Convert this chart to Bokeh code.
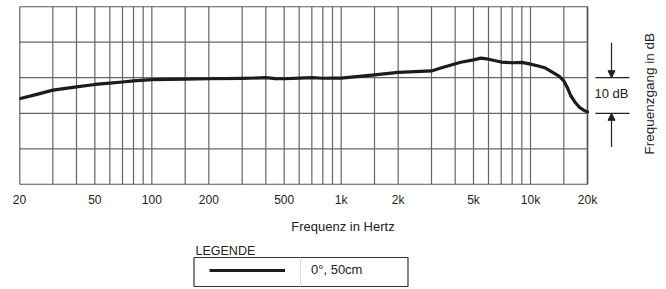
import math
from bokeh.plotting import figure
from bokeh.layouts import column
from bokeh.models import (Range1d, FixedTicker, Legend, LegendItem, Label,
                          Arrow, NormalHead)
from bokeh.embed import file_html
from bokeh.resources import INLINE

# ---- data ----
freq_hz = [20, 25, 30, 40, 50, 60, 70, 80, 100, 150, 200, 300, 400, 450, 500,
           600, 700, 800, 900, 1000, 1500, 2000, 3000, 3360, 4280, 5000, 5470,
           6000, 7000, 8000, 9000, 10000, 11000, 12000, 13300, 14200, 15000,
           15700, 16300, 17200, 18200, 19200, 20000]
response_db = [-5.9, -4.6, -3.5, -2.6, -1.9, -1.5, -1.2, -0.9, -0.55, -0.4, -0.3,
               -0.2, 0.0, -0.25, -0.3, -0.1, 0.0, -0.15, -0.1, -0.1, 0.8, 1.5,
               1.9, 2.7, 4.35, 5.0, 5.5, 5.2, 4.4, 4.2, 4.3, 3.8, 3.3, 2.7, 1.3,
               0.4, -0.9, -2.9, -5.0, -6.9, -8.4, -9.2, -9.6]

tick_values = [20, 50, 100, 200, 500, 1000, 2000, 5000, 10000, 20000]
tick_labels = ["20", "50", "100", "200", "500", "1k", "2k", "5k", "10k", "20k"]
grid_freqs = [20, 30, 40, 50, 60, 70, 80, 90, 100, 150, 200, 300, 400, 500,
              600, 700, 800, 900, 1000, 1500, 2000, 3000, 4000, 5000, 6000,
              7000, 8000, 9000, 10000, 15000, 20000]
grid_db = [-30, -20, -10, 0, 10, 20]
scale_step_db = 10
series_label = "0°, 50cm"

FONT = "Liberation Sans"
TXT = "#222222"
GRID = "#666666"
CURVE = "#1c1c1c"

f_min, f_max = freq_hz[0], freq_hz[-1]
db_min, db_max = grid_db[0], grid_db[-1]

# chart frame: 568 px wide for 3 decades; extended to the right edge for the scale marker
px_per_decade = 568 / 3
x_end = f_max * 10 ** (79 / px_per_decade)

p = figure(width=666, height=236, x_axis_type="log",
           x_range=Range1d(f_min, x_end), y_range=Range1d(db_min, db_max),
           output_backend="svg", toolbar_location=None,
           min_border_left=19, min_border_right=0,
           min_border_top=6, min_border_bottom=50)
p.outline_line_color = None
p.background_fill_color = "white"
p.border_fill_color = "white"
p.xgrid.visible = False
p.ygrid.visible = False
p.yaxis.visible = False

xa = p.xaxis[0]
xa.ticker = FixedTicker(ticks=tick_values)
xa.major_label_overrides = {v: s for v, s in zip(tick_values, tick_labels)}
xa.axis_line_color = None
xa.major_tick_line_color = None
xa.minor_tick_line_color = None
xa.major_tick_in = 0
xa.major_tick_out = 0
xa.major_label_standoff = 8
xa.major_label_text_font = FONT
xa.major_label_text_font_size = "12px"
xa.major_label_text_color = TXT
xa.axis_label = "Frequenz in Hertz"
xa.axis_label_text_font = FONT
xa.axis_label_text_font_size = "13px"
xa.axis_label_text_font_style = "normal"
xa.axis_label_text_color = TXT
xa.axis_label_standoff = 9

# grid drawn through the scales, limited to the chart area
p.segment(x0=grid_freqs, x1=grid_freqs, y0=[db_min] * len(grid_freqs),
          y1=[db_max] * len(grid_freqs), line_color=GRID, line_width=1.2)
p.segment(x0=[f_min] * len(grid_db), x1=[f_max] * len(grid_db), y0=grid_db,
          y1=grid_db, line_color=GRID, line_width=1.2)
p.quad(left=[f_min], right=[f_max], bottom=[db_min], top=[db_max],
       fill_alpha=0, line_color="#555555", line_width=1.6)

r = p.line(freq_hz, response_db, line_color=CURVE, line_width=3.2,
           line_join="round", line_cap="round")

# scale marker at the right (positions expressed in chart coordinates)
mx = f_max * 10 ** (24 / px_per_decade)      # marker column
mx0 = f_max * 10 ** (8 / px_per_decade)
mx1 = f_max * 10 ** (42 / px_per_decade)
y_hi, y_lo = 0, -scale_step_db
p.segment(x0=[mx0, mx0], x1=[mx1, mx1], y0=[y_hi, y_lo], y1=[y_hi, y_lo],
          line_color="#222222", line_width=1.2)
head = dict(size=7, fill_color="#222222", line_color="#222222", line_width=1)
p.add_layout(Arrow(end=NormalHead(**head), x_start=mx, x_end=mx,
                   y_start=y_hi + 9.8, y_end=y_hi, line_color="#222222",
                   line_width=1.2))
p.add_layout(Arrow(end=NormalHead(**head), x_start=mx, x_end=mx,
                   y_start=y_lo - 9.5, y_end=y_lo, line_color="#222222",
                   line_width=1.2))
p.add_layout(Label(x=mx, y=(y_hi + y_lo) / 2 + 0.5, text=f"{scale_step_db} dB",
                   text_font=FONT, text_font_size="13px", text_color=TXT,
                   text_align="center", text_baseline="middle"))
p.add_layout(Label(x=f_max * 10 ** (62 / px_per_decade), y=-4.5,
                   text="Frequenzgang in dB", angle=math.pi / 2,
                   text_font=FONT, text_font_size="13.5px", text_color=TXT,
                   text_align="center", text_baseline="middle"))

# legend strip below the chart (pixel-like coordinates, y pointing down);
# its frame is aligned with the chart frame (left border 19 px)
q = figure(width=666, height=53, x_range=Range1d(19, 666), y_range=Range1d(289, 236),
           output_backend="svg", toolbar_location=None,
           min_border_left=19, min_border_right=0, min_border_top=0,
           min_border_bottom=0)
q.axis.visible = False
q.grid.visible = False
q.outline_line_color = None
q.background_fill_color = "white"
q.border_fill_color = "white"

q.quad(left=[193.5], right=[407.5], top=[257], bottom=[286], fill_alpha=0,
       line_color="#333333", line_width=1.2)
q.segment(x0=[300], x1=[300], y0=[257], y1=[286], line_color="#dddddd",
          line_width=1)
# legend proxy: same series, out of this strip's visible range
lr = q.line(freq_hz, response_db, line_color=CURVE, line_width=3.2)
legend = Legend(items=[LegendItem(label=series_label, renderers=[lr])],
                location=(205 - 19, 289 - 283.5), margin=0, padding=4,
                glyph_width=76, glyph_height=20, label_height=20,
                label_standoff=26, border_line_alpha=0,
                background_fill_alpha=0,
                label_text_font=FONT, label_text_font_size="13px",
                label_text_color=TXT)
q.add_layout(legend, "center")
q.add_layout(Label(x=195, y=250.5, text="LEGENDE", text_font=FONT,
                   text_font_size="12.5px", text_color=TXT,
                   text_baseline="alphabetic"))

layout = column(p, q, spacing=0)
open("out.html", "w").write(file_html(layout, INLINE))
